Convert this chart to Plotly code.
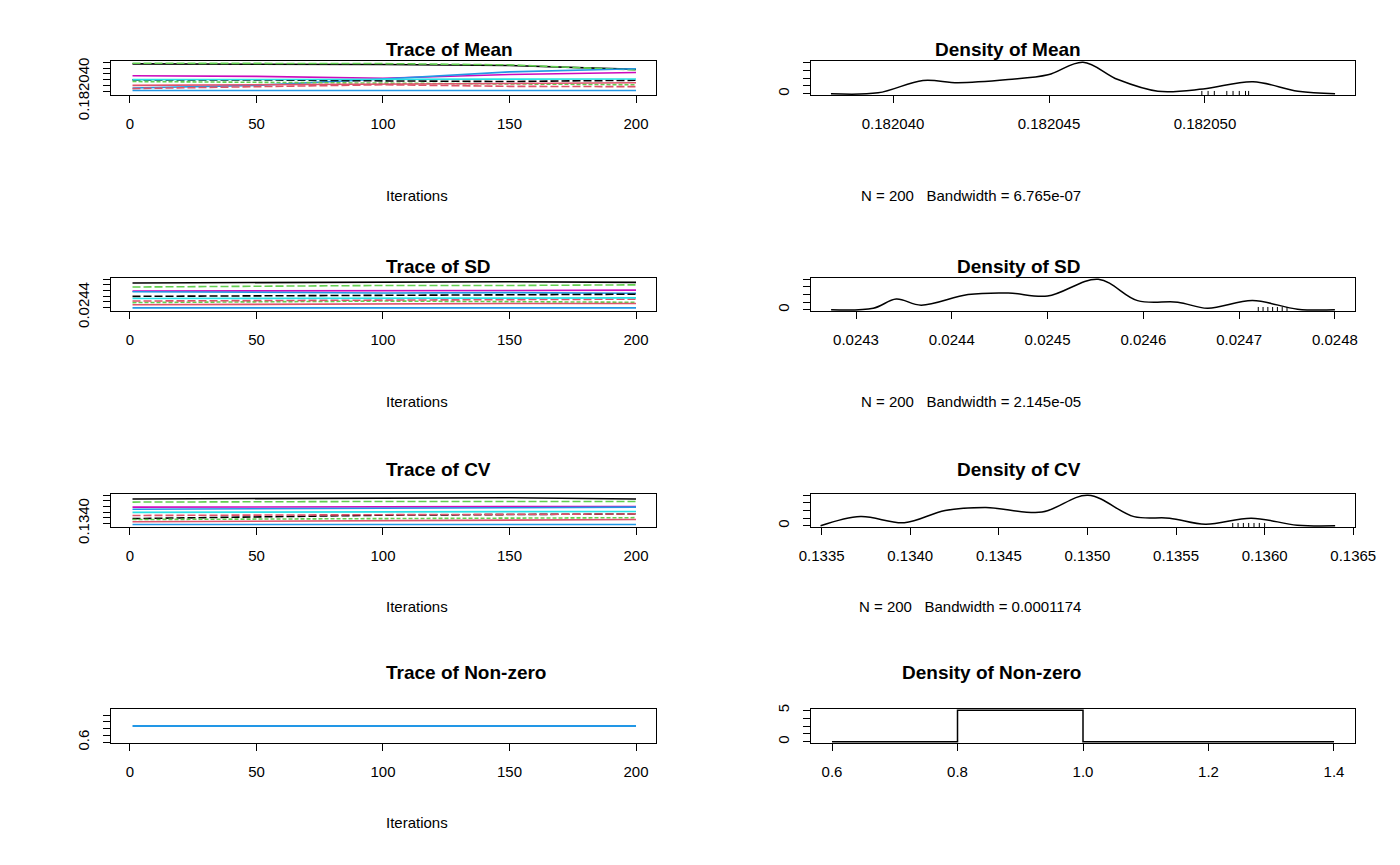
import plotly.graph_objects as go

iters = [1, 50, 100, 150, 200]

# chain values (position inside the plotting box, 0 = bottom, 1 = top)
mean_chains = [
    [0.95, 0.95, 0.93, 0.90, 0.78],
    [0.97, 0.96, 0.96, 0.92, 0.76],
    [0.58, 0.56, 0.50, 0.62, 0.68],
    [0.20, 0.28, 0.48, 0.70, 0.80],
    [0.45, 0.45, 0.42, 0.40, 0.44],
    [0.40, 0.38, 0.36, 0.32, 0.30],
    [0.18, 0.25, 0.30, 0.25, 0.24],
    [0.12, 0.12, 0.12, 0.12, 0.12],
    [0.46, 0.47, 0.47, 0.48, 0.48],
    [0.28, 0.30, 0.32, 0.34, 0.36],
]
sd_chains = [
    [0.88, 0.90, 0.92, 0.92, 0.90],
    [0.75, 0.78, 0.80, 0.80, 0.82],
    [0.62, 0.62, 0.63, 0.64, 0.65],
    [0.60, 0.58, 0.56, 0.57, 0.55],
    [0.45, 0.46, 0.48, 0.50, 0.52],
    [0.25, 0.28, 0.30, 0.28, 0.26],
    [0.30, 0.32, 0.34, 0.35, 0.36],
    [0.08, 0.08, 0.08, 0.08, 0.08],
    [0.38, 0.38, 0.39, 0.40, 0.40],
    [0.18, 0.20, 0.20, 0.22, 0.22],
]
cv_chains = [
    [0.88, 0.90, 0.92, 0.92, 0.88],
    [0.78, 0.80, 0.80, 0.80, 0.80],
    [0.62, 0.62, 0.62, 0.63, 0.64],
    [0.55, 0.56, 0.58, 0.60, 0.62],
    [0.25, 0.30, 0.36, 0.38, 0.40],
    [0.22, 0.24, 0.25, 0.26, 0.28],
    [0.35, 0.36, 0.38, 0.38, 0.40],
    [0.06, 0.06, 0.06, 0.06, 0.06],
    [0.45, 0.46, 0.46, 0.47, 0.48],
    [0.15, 0.16, 0.18, 0.20, 0.22],
]
nonzero_chain = [0.5, 0.5, 0.5, 0.5, 0.5]

# densities (x in parameter units, y relative to the peak)
mean_dx = [0.18203801, 0.18203952, 0.18204096, 0.18204208, 0.18204369, 0.18204497, 0.18204609,
           0.18204721, 0.18204849, 0.18204994, 0.18205154, 0.18205298, 0.18205417]
mean_dy = [0, 0.03, 0.42, 0.35, 0.45, 0.6, 1.0, 0.45, 0.08, 0.15, 0.38, 0.08, 0]
mean_rug = [0.1820499, 0.1820501, 0.1820503, 0.1820507, 0.1820509, 0.1820511, 0.1820513, 0.1820514]
sd_dx = [0.024274, 0.024318, 0.024342, 0.024368, 0.024417, 0.024459, 0.024500,
         0.024553, 0.024594, 0.024636, 0.024667, 0.024714, 0.024761, 0.024800]
sd_dy = [0, 0.05, 0.35, 0.15, 0.5, 0.55, 0.45, 1.0, 0.3, 0.25, 0.05, 0.3, 0.02, 0]
sd_rug = [0.024720, 0.024725, 0.024730, 0.024735, 0.024740, 0.024745, 0.024750]
cv_dx = [0.133494, 0.133719, 0.133967, 0.134197, 0.134427, 0.134744, 0.135003,
         0.135263, 0.135464, 0.135666, 0.135925, 0.136184, 0.136398]
cv_dy = [0, 0.3, 0.1, 0.5, 0.6, 0.45, 1.0, 0.3, 0.25, 0.05, 0.25, 0.02, 0]
cv_rug = [0.13582, 0.13585, 0.13588, 0.13591, 0.13594, 0.13597, 0.13600]
nz_hx = [0.6, 0.8, 0.8, 1.0, 1.0, 1.4]
nz_hy = [0, 0, 5, 5, 0, 0]

titles = ["Trace of Mean", "Density of Mean", "Trace of SD", "Density of SD",
          "Trace of CV", "Density of CV", "Trace of Non-zero", "Density of Non-zero"]
bandwidths = ["N = 200   Bandwidth = 6.765e-07", "N = 200   Bandwidth = 2.145e-05",
              "N = 200   Bandwidth = 0.0001174"]

palette = ["black", "#61D04F", "#CD0BBC", "#2297E6", "black", "#61D04F",
           "#DF536B", "#2297E6", "#28E2E5", "#DF536B"]
dashes = ["solid", "8px,3px", "solid", "solid", "8px,3px", "4px,2px", "8px,3px", "solid", "solid", "solid"]

W, H = 1400, 865
rows_px = [(53, 87), (270, 303), (486, 519), (701, 735)]
left_px, right_px = (103, 648), (803, 1347)
font = "Liberation Sans, Arial, sans-serif"

fig = go.Figure()

def dom_x(p):
    return [p[0] / W, p[1] / W]

def dom_y(p):
    return [1 - p[1] / H, 1 - p[0] / H]

axis_common = dict(showline=True, mirror=True, linecolor="black", linewidth=1, ticks="outside",
                   ticklen=7, tickcolor="black", showgrid=False, zeroline=False, automargin=False,
                   ticklabelstandoff=8,
                   tickfont=dict(family=font, size=15, color="black"))

dens = [(mean_dx, mean_dy, mean_rug, [0.18203737, 0.18205481], [0.182040, 0.182045, 0.182050],
         ["0.182040", "0.182045", "0.182050"]),
        (sd_dx, sd_dy, sd_rug, [0.024253, 0.024821], [0.0243, 0.0244, 0.0245, 0.0246, 0.0247, 0.0248],
         ["0.0243", "0.0244", "0.0245", "0.0246", "0.0247", "0.0248"]),
        (cv_dx, cv_dy, cv_rug, [0.13344, 0.13651], [0.1335, 0.134, 0.1345, 0.135, 0.1355, 0.136, 0.1365],
         ["0.1335", "0.1340", "0.1345", "0.1350", "0.1355", "0.1360", "0.1365"])]
chains_all = [mean_chains, sd_chains, cv_chains]
ylabels = ["0.182040", "0.0244", "0.1340"]
layout = {}
annotations = []

for r in range(4):
    li, ri = 2 * r + 1, 2 * r + 2
    xa_l, ya_l = f"x{li}", f"y{li}"
    xa_r, ya_r = f"x{ri}", f"y{ri}"
    # trace panel
    if r < 3:
        for k, ch in enumerate(chains_all[r]):
            fig.add_trace(go.Scatter(x=iters, y=ch, mode="lines", xaxis=xa_l, yaxis=ya_l,
                                     line=dict(color=palette[k], dash=dashes[k], width=1.6),
                                     showlegend=False))
        ytv = [0.1, 0.28, 0.46, 0.64, 0.82, 1.0]
        ytt = [ylabels[r], "", "", "", "", ""]
        yr = [-0.02, 1.04]
    else:
        fig.add_trace(go.Scatter(x=iters, y=nonzero_chain, mode="lines", xaxis=xa_l, yaxis=ya_l,
                                 line=dict(color="#2297E6", width=2), showlegend=False))
        ytv = [0.02, 0.22, 0.42, 0.62, 0.82, 1.02]
        ytt = ["0.6", "", "", "", "", ""]
        yr = [0, 1]
    layout[f"xaxis{li}"] = dict(axis_common, domain=dom_x(left_px), anchor=ya_l, range=[-7.5, 207.9],
                                tickvals=[0, 50, 100, 150, 200])
    layout[f"yaxis{li}"] = dict(axis_common, domain=dom_y(rows_px[r]), anchor=xa_l, range=yr,
                                tickvals=ytv, ticktext=ytt, tickangle=-90)
    # density panel
    if r < 3:
        dx, dy, rug, xr, xtv, xtt = dens[r]
        fig.add_trace(go.Scatter(x=dx, y=dy, mode="lines", line=dict(color="black", width=1.5, shape="spline"),
                                 xaxis=xa_r, yaxis=ya_r, showlegend=False))
        fig.add_trace(go.Scatter(x=rug, y=[0] * len(rug), mode="markers",
                                 marker=dict(symbol="line-ns", size=4, line=dict(width=1, color="black")),
                                 xaxis=xa_r, yaxis=ya_r, showlegend=False))
        ytv = [0, 0.25, 0.5, 0.75, 1.0]
        ytt = ["0", "", "", "", ""]
        yr = [-0.04, 1.04]
        annotations.append(dict(text=bandwidths[r], x=(right_px[0] + right_px[1]) / 2 / W,
                                y=1 - (rows_px[r][1] + 90) / H, xref="paper", yref="paper",
                                showarrow=False, font=dict(family=font, size=15, color="black")))
    else:
        fig.add_trace(go.Scatter(x=nz_hx, y=nz_hy, mode="lines", line=dict(color="black", width=1.5),
                                 xaxis=xa_r, yaxis=ya_r, showlegend=False))
        xr, xtv = [0.5665, 1.4335], [0.6, 0.8, 1.0, 1.2, 1.4]
        xtt = ["0.6", "0.8", "1.0", "1.2", "1.4"]
        ytv = [0, 1.25, 2.5, 3.75, 5]
        ytt = ["0", "", "", "", "5"]
        yr = [-0.2, 5.2]
    layout[f"xaxis{ri}"] = dict(axis_common, domain=dom_x(right_px), anchor=ya_r, range=xr,
                                tickvals=xtv, ticktext=xtt)
    layout[f"yaxis{ri}"] = dict(axis_common, domain=dom_y(rows_px[r]), anchor=xa_r, range=yr,
                                tickvals=ytv, ticktext=ytt, tickangle=-90)
    # titles and "Iterations"
    for c, px in enumerate([left_px, right_px]):
        annotations.append(dict(text=f"<b>{titles[2 * r + c]}</b>", x=(px[0] + px[1]) / 2 / W,
                                y=1 - (rows_px[r][0] - 24) / H, xref="paper", yref="paper",
                                showarrow=False, font=dict(family=font, size=19, color="black")))
    annotations.append(dict(text="Iterations", x=(left_px[0] + left_px[1]) / 2 / W,
                            y=1 - (rows_px[r][1] + 90) / H, xref="paper", yref="paper",
                            showarrow=False, font=dict(family=font, size=15, color="black")))

fig.update_layout(width=W, height=H, margin=dict(l=0, r=0, t=0, b=0, autoexpand=False),
                  plot_bgcolor="white", paper_bgcolor="white", annotations=annotations, **layout)
fig.write_html("out.html")
